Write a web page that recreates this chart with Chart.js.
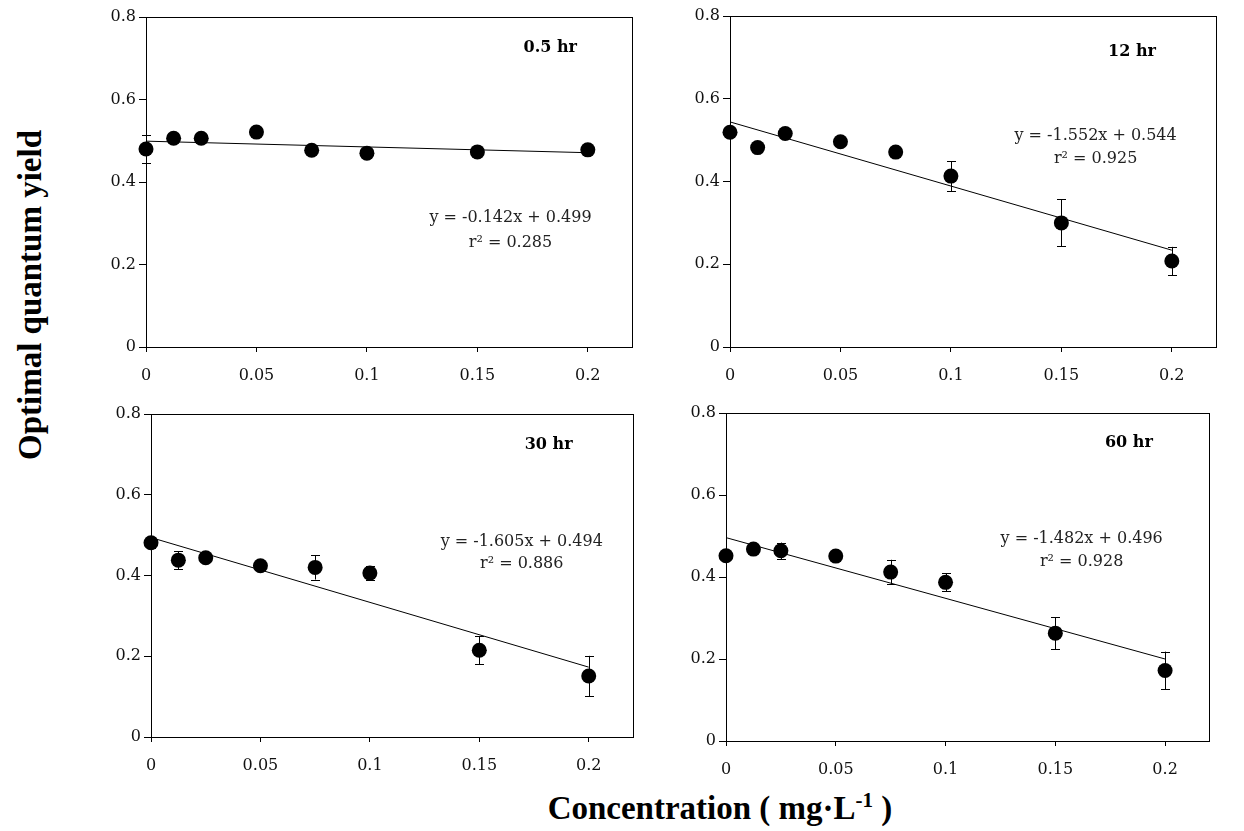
<!DOCTYPE html>
<html>
<head>
<meta charset="utf-8">
<script src="https://cdn.jsdelivr.net/npm/chart.js@4.4.1/dist/chart.umd.min.js"></script>
<style>
  html, body { margin: 0; padding: 0; background: #fff; }
  body { width: 1244px; height: 831px; position: relative; overflow: hidden; }
  canvas.panel { position: absolute; }
  #y-title {
    position: absolute; left: 30px; top: 295px;
    transform: translate(-50%, -50%) rotate(-90deg);
    font: bold 33px 'Liberation Serif', serif; white-space: nowrap; color: #000;
  }
  #x-title {
    position: absolute; left: 720px; top: 808px;
    transform: translate(-50%, -50%);
    font: bold 33px 'Liberation Serif', serif; white-space: nowrap; color: #000;
  }
  #x-title sup { font-size: 21px; vertical-align: 12px; line-height: 0; }
</style>
</head>
<body>
<div id="y-title">Optimal quantum yield</div>
<div id="x-title">Concentration ( mg·L<sup>-1</sup> )</div>

<script>
// ---- DATA ----
const concentrations = [0, 0.0125, 0.025, 0.05, 0.075, 0.1, 0.15, 0.2];

const yield05h = [0.480, 0.506, 0.506, 0.521, 0.477, 0.470, 0.473, 0.478];
const err05h   = [0.034, 0.005, 0.005, 0.005, 0.005, 0.005, 0.005, 0.005];

const yield12h = [0.519, 0.482, 0.516, 0.496, 0.471, 0.413, 0.300, 0.208];
const err12h   = [0.005, 0.005, 0.005, 0.005, 0.005, 0.036, 0.057, 0.034];

const yield30h = [0.481, 0.438, 0.444, 0.424, 0.420, 0.406, 0.215, 0.151];
const err30h   = [0.014, 0.022, 0.005, 0.005, 0.030, 0.017, 0.035, 0.050];

const yield60h = [0.452, 0.468, 0.464, 0.451, 0.412, 0.387, 0.263, 0.172];
const err60h   = [0.010, 0.005, 0.020, 0.005, 0.030, 0.022, 0.039, 0.046];

// fitted lines, value at x = 0 and at x = 0.2
const fitStart = [0.499, 0.544, 0.494, 0.496];
const fitEnd   = [0.471, 0.234, 0.173, 0.200];

const panelTitles = ['0.5 hr', '12 hr', '30 hr', '60 hr'];
const equations   = ['y = -0.142x + 0.499', 'y = -1.552x + 0.544', 'y = -1.605x + 0.494', 'y = -1.482x + 0.496'];
const rSquared    = ['r² = 0.285', 'r² = 0.925', 'r² = 0.886', 'r² = 0.928'];

const xTicks = [0, 0.05, 0.1, 0.15, 0.2];
const xTickLabels = ['0', '0.05', '0.1', '0.15', '0.2'];
const yTicks = [0, 0.2, 0.4, 0.6, 0.8];
const yTickLabels = ['0', '0.2', '0.4', '0.6', '0.8'];

// ---- LAYOUT ----
// canvas box + chart area insets for each panel
const panels = [
  { left: 100, top: 0,   w: 540, h: 385, yw: 46, padR: 8,  padT: 17, xh: 38, vals: yield05h, errs: err05h },
  { left: 680, top: 0,   w: 560, h: 385, yw: 50, padR: 24, padT: 16, xh: 38, vals: yield12h, errs: err12h },
  { left: 100, top: 390, w: 540, h: 395, yw: 51, padR: 4,  padT: 24, xh: 48, vals: yield30h, errs: err30h },
  { left: 680, top: 390, w: 560, h: 395, yw: 46, padR: 31, padT: 23, xh: 44, vals: yield60h, errs: err60h },
];
// label anchors in data units: [title, equation, r2]
const labelSpots = [
  [[0.183, 0.725], [0.165, 0.313], [0.165, 0.252]],
  [[0.182, 0.713], [0.1655, 0.510], [0.1655, 0.454]],
  [[0.1817, 0.723], [0.1694, 0.4837], [0.1694, 0.4285]],
  [[0.1835, 0.726], [0.162, 0.494], [0.162, 0.437]],
];

const tickFont = { family: "'DejaVu Serif', serif", size: 16 };

function panelPlugin(i) {
  return {
    id: 'panelExtras' + i,
    beforeDatasetsDraw(chart) {
      const { ctx } = chart;
      const xs = chart.scales.x, ys = chart.scales.y;
      const p = panels[i];
      ctx.save();
      ctx.strokeStyle = '#000';
      ctx.lineWidth = 1;
      concentrations.forEach((c, j) => {
        const px = Math.round(xs.getPixelForValue(c)) + 0.5;
        const hi = ys.getPixelForValue(p.vals[j] + p.errs[j]);
        const lo = ys.getPixelForValue(p.vals[j] - p.errs[j]);
        ctx.beginPath();
        ctx.moveTo(px, hi); ctx.lineTo(px, lo);
        ctx.moveTo(px - 4.5, Math.round(hi) + 0.5); ctx.lineTo(px + 4.5, Math.round(hi) + 0.5);
        ctx.moveTo(px - 4.5, Math.round(lo) + 0.5); ctx.lineTo(px + 4.5, Math.round(lo) + 0.5);
        ctx.stroke();
      });
      ctx.restore();
    },
    afterDraw(chart) {
      const { ctx, chartArea: a } = chart;
      const xs = chart.scales.x, ys = chart.scales.y;
      const spots = labelSpots[i];
      ctx.save();
      ctx.strokeStyle = '#000';
      ctx.lineWidth = 1;
      ctx.strokeRect(Math.round(a.left) + 0.5, Math.round(a.top) + 0.5,
                     Math.round(a.right - a.left), Math.round(a.bottom - a.top));
      ctx.fillStyle = '#000';
      ctx.textAlign = 'center';
      ctx.textBaseline = 'middle';
      ctx.font = "bold 16px 'DejaVu Serif', serif";
      ctx.fillText(panelTitles[i], xs.getPixelForValue(spots[0][0]), ys.getPixelForValue(spots[0][1]));
      ctx.font = "16px 'DejaVu Serif', serif";
      ctx.fillStyle = '#222';
      ctx.fillText(equations[i], xs.getPixelForValue(spots[1][0]), ys.getPixelForValue(spots[1][1]));
      ctx.fillText(rSquared[i], xs.getPixelForValue(spots[2][0]), ys.getPixelForValue(spots[2][1]));
      ctx.restore();
    }
  };
}

panels.forEach((p, i) => {
  const cv = document.createElement('canvas');
  cv.className = 'panel';
  cv.width = p.w; cv.height = p.h;
  cv.style.left = p.left + 'px'; cv.style.top = p.top + 'px';
  cv.style.width = p.w + 'px'; cv.style.height = p.h + 'px';
  document.body.appendChild(cv);

  new Chart(cv, {
    type: 'scatter',
    data: {
      datasets: [
        {
          type: 'line',
          data: [{ x: 0, y: fitStart[i] }, { x: 0.2, y: fitEnd[i] }],
          borderColor: '#000', borderWidth: 1, pointRadius: 0, fill: false, order: 2,
        },
        {
          data: concentrations.map((c, j) => ({ x: c, y: p.vals[j] })),
          pointRadius: 7.5, pointHoverRadius: 7.5,
          backgroundColor: '#000', borderColor: '#000', borderWidth: 0,
          clip: false, order: 1,
        },
      ],
    },
    options: {
      responsive: false,
      animation: false,
      events: [],
      layout: { padding: { top: p.padT, right: p.padR, left: 0, bottom: 0 } },
      plugins: { legend: { display: false }, tooltip: { enabled: false } },
      scales: {
        x: {
          type: 'linear', min: 0, max: 0.22,
          afterBuildTicks: (s) => { s.ticks = xTicks.map(v => ({ value: v })); },
          afterFit: (s) => { s.height = p.xh; },
          ticks: {
            font: tickFont, color: '#111', padding: 14, maxRotation: 0, autoSkip: false,
            callback: (v) => xTickLabels[xTicks.indexOf(v)],
          },
          grid: { display: true, drawOnChartArea: false, drawTicks: true, tickLength: 5, color: '#000' },
          border: { display: true, color: '#000', width: 1 },
        },
        y: {
          type: 'linear', min: 0, max: 0.8,
          afterBuildTicks: (s) => { s.ticks = yTicks.map(v => ({ value: v })); },
          afterFit: (s) => { s.width = p.yw; },
          ticks: {
            font: tickFont, color: '#111', padding: 3, autoSkip: false,
            callback: (v) => yTickLabels[yTicks.indexOf(v)],
          },
          grid: { display: true, drawOnChartArea: false, drawTicks: true, tickLength: 7, color: '#000' },
          border: { display: true, color: '#000', width: 1 },
        },
      },
    },
    plugins: [panelPlugin(i)],
  });
});
</script>
</body>
</html>
